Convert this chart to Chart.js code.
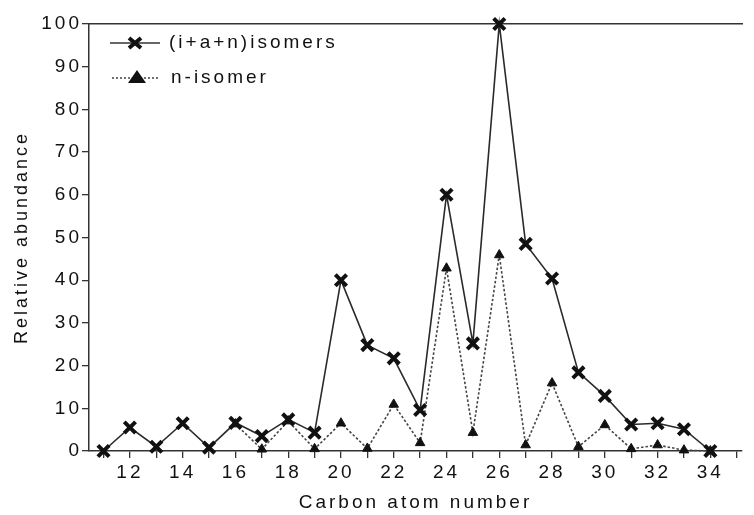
<!DOCTYPE html>
<html>
<head>
<meta charset="utf-8">
<script src="https://cdn.jsdelivr.net/npm/chart.js@4/dist/chart.umd.min.js"></script>
<style>
  html, body { margin: 0; padding: 0; background: #fff; }
  #wrap { width: 754px; height: 515px; position: relative; }
</style>
</head>
<body>
<div id="wrap"><canvas id="chart"></canvas></div>
<script>
// carbon numbers and relative abundances
const carbonNumbers = [11, 12, 13, 14, 15, 16, 17, 18, 19, 20, 21, 22, 23, 24, 25, 26, 27, 28, 29, 30, 31, 32, 33, 34];
const totalIsomers = [0, 5.5, 1, 6.5, 0.8, 6.6, 3.5, 7.4, 4.3, 40, 24.8, 21.7, 9.6, 60, 25.2, 100, 48.5, 40.4, 18.4, 12.9, 6.2, 6.5, 5.1, 0];
const nIsomer = [null, null, null, null, null, 6.3, 0.4, 7, 0.5, 6.5, 0.6, 10.9, 1.9, 42.8, 4.3, 45.9, 1.4, 15.9, 1, 6.1, 0.5, 1.4, 0.2, 0];
const xTickLabels = [12, 14, 16, 18, 20, 22, 24, 26, 28, 30, 32, 34];
const yTicks = [0, 10, 20, 30, 40, 50, 60, 70, 80, 90, 100];
const seriesNames = ['(i+a+n)isomers', 'n-isomer'];

const ink = '#111';
const fontFamily = '"Liberation Sans", Arial, sans-serif';
const spacing = '3px';

function toPoints(ys) {
    return carbonNumbers.map((c, i) => ({ x: c, y: ys[i] }));
}

// wide tracking on every text
const tracking = {
    id: 'tracking',
    beforeLayout(chart) { chart.ctx.letterSpacing = spacing; },
    beforeDraw(chart) { chart.ctx.letterSpacing = spacing; }
};

// legend box in the upper left of the plot
const innerLegend = {
    id: 'innerLegend',
    afterDraw(chart) {
        const ctx = chart.ctx;
        const left = chart.chartArea.left;
        ctx.save();
        ctx.letterSpacing = spacing;
        ctx.font = '19px ' + fontFamily;
        ctx.fillStyle = ink;
        ctx.textBaseline = 'middle';
        ctx.textAlign = 'left';

        // solid line with x marker
        let y = 43;
        ctx.strokeStyle = '#333';
        ctx.lineWidth = 1.5;
        ctx.beginPath();
        ctx.moveTo(left + 21, y);
        ctx.lineTo(left + 71, y);
        ctx.stroke();
        ctx.lineWidth = 4;
        ctx.strokeStyle = '#111';
        ctx.beginPath();
        ctx.moveTo(left + 40, y - 5); ctx.lineTo(left + 52, y + 5);
        ctx.moveTo(left + 52, y - 5); ctx.lineTo(left + 40, y + 5);
        ctx.stroke();
        ctx.fillText(seriesNames[0], left + 80, y);

        // dotted line with triangle
        y = 78;
        ctx.strokeStyle = '#444';
        ctx.lineWidth = 1.5;
        ctx.setLineDash([2, 2]);
        ctx.beginPath();
        ctx.moveTo(left + 23, y);
        ctx.lineTo(left + 69, y);
        ctx.stroke();
        ctx.setLineDash([]);
        ctx.fillStyle = '#111';
        ctx.beginPath();
        ctx.moveTo(left + 48, y - 8);
        ctx.lineTo(left + 57, y + 5);
        ctx.lineTo(left + 39, y + 5);
        ctx.closePath();
        ctx.fill();
        ctx.fillStyle = ink;
        ctx.fillText(seriesNames[1], left + 82, y);
        ctx.restore();
    }
};

const ctx = document.querySelector('#chart').getContext('2d');
const chart = new Chart(ctx, {
    type: 'line',
    data: {
        datasets: [{
            label: seriesNames[0],
            data: toPoints(totalIsomers),
            borderColor: '#2a2a2a',
            borderWidth: 1.6,
            pointStyle: 'crossRot',
            pointRadius: 8,
            pointBorderWidth: 4,
            pointBorderColor: '#111',
            pointBackgroundColor: '#111',
            tension: 0,
            clip: false
        }, {
            label: seriesNames[1],
            data: toPoints(nIsomer),
            borderColor: '#444',
            borderWidth: 1.6,
            borderDash: [2.5, 2],
            pointStyle: 'triangle',
            pointRadius: 5.5,
            pointBorderWidth: 1,
            pointBorderColor: '#111',
            pointBackgroundColor: '#111',
            tension: 0,
            spanGaps: false,
            clip: false
        }]
    },
    options: {
        responsive: true,
        maintainAspectRatio: false,
        animation: false,
        layout: { padding: { top: 24, right: 0, bottom: 0, left: 0 } },
        scales: {
            x: {
                type: 'linear',
                position: 'bottom',
                min: 10.45,
                max: 35.2,
                afterBuildTicks(scale) {
                    const ticks = [];
                    for (let v = 11; v <= 35; v++) ticks.push({ value: v });
                    scale.ticks = ticks;
                },
                afterFit(scale) { scale.height = 64; },
                grid: {
                    drawOnChartArea: false,
                    drawTicks: true,
                    tickLength: 7,
                    color: '#333',
                    lineWidth: 1.3
                },
                border: { display: true, color: '#333', width: 1.5 },
                ticks: {
                    autoSkip: false,
                    maxRotation: 0,
                    padding: 3,
                    color: ink,
                    font: { family: fontFamily, size: 19 },
                    callback: (v) => xTickLabels.includes(v) ? String(v) : ''
                },
                title: {
                    display: true,
                    text: 'Carbon atom number',
                    color: ink,
                    font: { family: fontFamily, size: 19 },
                    padding: { top: 0, bottom: 1 }
                }
            },
            xTop: {
                type: 'linear',
                position: 'top',
                min: 10.45,
                max: 35.2,
                afterFit(scale) { scale.height = 0; },
                grid: { display: false, drawTicks: false },
                ticks: { display: false },
                border: { display: true, color: '#333', width: 1.5 }
            },
            y: {
                min: 0,
                max: 100,
                afterBuildTicks(scale) {
                    scale.ticks = yTicks.map(v => ({ value: v }));
                },
                afterFit(scale) { scale.width = 89; },
                grid: {
                    drawOnChartArea: false,
                    drawTicks: true,
                    tickLength: 7,
                    color: '#333',
                    lineWidth: 1.3
                },
                border: { display: true, color: '#333', width: 1.5 },
                ticks: {
                    padding: 0,
                    color: ink,
                    font: { family: fontFamily, size: 19 }
                },
                title: {
                    display: true,
                    text: 'Relative abundance',
                    color: ink,
                    font: { family: fontFamily, size: 18 },
                    padding: { top: 11, bottom: 0 }
                }
            }
        },
        plugins: {
            legend: { display: false },
            tooltip: { enabled: false }
        }
    },
    plugins: [tracking, innerLegend]
});
</script>
</body>
</html>
